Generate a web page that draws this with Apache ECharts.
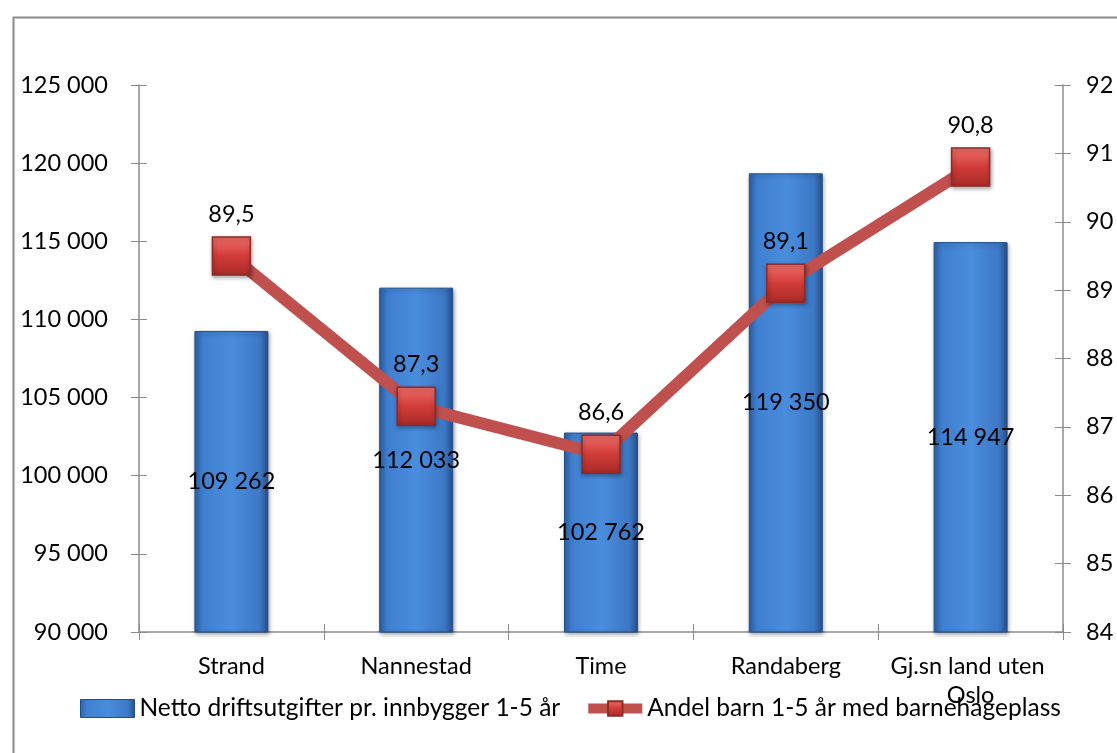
<!DOCTYPE html>
<html><head><meta charset="utf-8">
<script src="https://cdn.jsdelivr.net/npm/echarts@6/dist/echarts.min.js"></script>
<style>html,body{margin:0;padding:0;background:#fff}#c{width:1117px;height:753px}</style>
</head><body><div id="c"></div>
<script>
const categories = ['Strand', 'Nannestad', 'Time', 'Randaberg', 'Gj.sn land uten Oslo'];
const costValues = [109262, 112033, 102762, 119350, 114947];
const shareValues = [89.5, 87.3, 86.6, 89.1, 90.8];
const costName = 'Netto driftsutgifter pr. innbygger 1-5 år';
const shareName = 'Andel barn 1-5 år med barnehageplass';

const FONT = 'Lato, "Open Sans", sans-serif';
const FS = 23.5;
const fmtThousands = v => String(Math.round(v)).replace(/\B(?=(\d{3})+(?!\d))/g, ' ');
const fmtDec = v => v.toFixed(1).replace('.', ',');

const barGrad = new echarts.graphic.LinearGradient(0, 0, 1, 0, [
  {offset: 0, color: '#2f62a6'},
  {offset: 0.12, color: '#3f7fcf'},
  {offset: 0.5, color: '#4a8ddd'},
  {offset: 0.88, color: '#3c78c6'},
  {offset: 1, color: '#284f8a'}
]);
const markGrad = new echarts.graphic.LinearGradient(0, 0, 0, 1, [
  {offset: 0, color: '#f0706b'},
  {offset: 0.5, color: '#d23c38'},
  {offset: 1, color: '#a82a27'}
]);

const chart = echarts.init(document.getElementById('c'), null, {renderer: 'canvas'});
const axisGray = '#8c8c8c';
chart.setOption({
  animation: false,
  textStyle: {fontFamily: FONT},
  graphic: [{
    type: 'rect', left: 11, top: 15, silent: true, z: -1,
    shape: {width: 1110, height: 745},
    style: {fill: 'none', stroke: '#8a8a8a', lineWidth: 2}
  }],
  grid: {left: 139, right: 54, top: 85, bottom: 121},
  legend: {
    left: 75, top: 691, itemGap: 23,
    textStyle: {fontFamily: FONT, fontSize: 24.5, color: '#000'},
    data: [
      {name: costName, icon: 'rect', itemStyle: {color: barGrad, borderColor: '#1f4e8c', borderWidth: 1}},
      {name: shareName, lineStyle: {width: 10, color: '#c0504d'}, itemStyle: {color: markGrad, borderColor: '#8c2b28'}}
    ],
    itemWidth: 54, itemHeight: 18
  },
  xAxis: [{
    type: 'category', data: categories,
    axisLine: {lineStyle: {color: axisGray, width: 1.5}},
    axisTick: {show: true, length: 8, lineStyle: {color: axisGray}},
    axisLabel: {interval: 0, fontFamily: FONT, fontSize: FS, color: '#000', margin: 20, width: 175, overflow: 'break', lineHeight: 29}
  }, {
    type: 'category', data: categories, position: 'bottom',
    axisLine: {show: false},
    axisTick: {show: true, inside: true, length: 8, lineStyle: {color: axisGray}},
    axisLabel: {show: false}
  }],
  yAxis: [{
    type: 'value', min: 90000, max: 125000, interval: 5000, position: 'left',
    axisLine: {show: true, lineStyle: {color: axisGray, width: 1.5}},
    axisTick: {show: true, length: 8, lineStyle: {color: axisGray}},
    splitLine: {show: false},
    axisLabel: {fontFamily: FONT, fontSize: FS, color: '#000', margin: 31, formatter: fmtThousands}
  }, {
    type: 'value', min: 84, max: 92, interval: 1, position: 'right',
    axisLine: {show: true, lineStyle: {color: axisGray, width: 1.5}},
    axisTick: {show: true, length: 8, lineStyle: {color: axisGray}},
    splitLine: {show: false},
    axisLabel: {fontFamily: FONT, fontSize: FS, color: '#000', margin: 23}
  }, {
    type: 'value', min: 90000, max: 125000, interval: 5000, position: 'left',
    axisLine: {show: false}, splitLine: {show: false}, axisLabel: {show: false},
    axisTick: {show: true, inside: true, length: 8, lineStyle: {color: axisGray}}
  }, {
    type: 'value', min: 84, max: 92, interval: 1, position: 'right',
    axisLine: {show: false}, splitLine: {show: false}, axisLabel: {show: false},
    axisTick: {show: true, inside: true, length: 8, lineStyle: {color: axisGray}}
  }],
  series: [{
    name: costName, type: 'bar', data: costValues, yAxisIndex: 0, barWidth: '40%',
    itemStyle: {color: barGrad, borderColor: '#1f4e8c', borderWidth: 1,
      shadowColor: 'rgba(0,0,0,0.35)', shadowBlur: 4, shadowOffsetX: 1, shadowOffsetY: 2},
    label: {show: true, position: 'inside', fontFamily: FONT, fontSize: FS, color: '#000',
      formatter: p => fmtThousands(p.value)},
    z: 2
  }, {
    name: shareName, type: 'line', data: shareValues, yAxisIndex: 1,
    symbol: 'rect', symbolSize: 38,
    lineStyle: {color: '#c0504d', width: 12},
    itemStyle: {color: markGrad, borderColor: '#8c2b28', borderWidth: 1.5,
      shadowColor: 'rgba(0,0,0,0.35)', shadowBlur: 4, shadowOffsetX: 1, shadowOffsetY: 2},
    label: {show: true, position: 'top', distance: 10, fontFamily: FONT, fontSize: FS, color: '#000',
      formatter: p => fmtDec(p.value)},
    z: 3
  }]
});
</script></body></html>
